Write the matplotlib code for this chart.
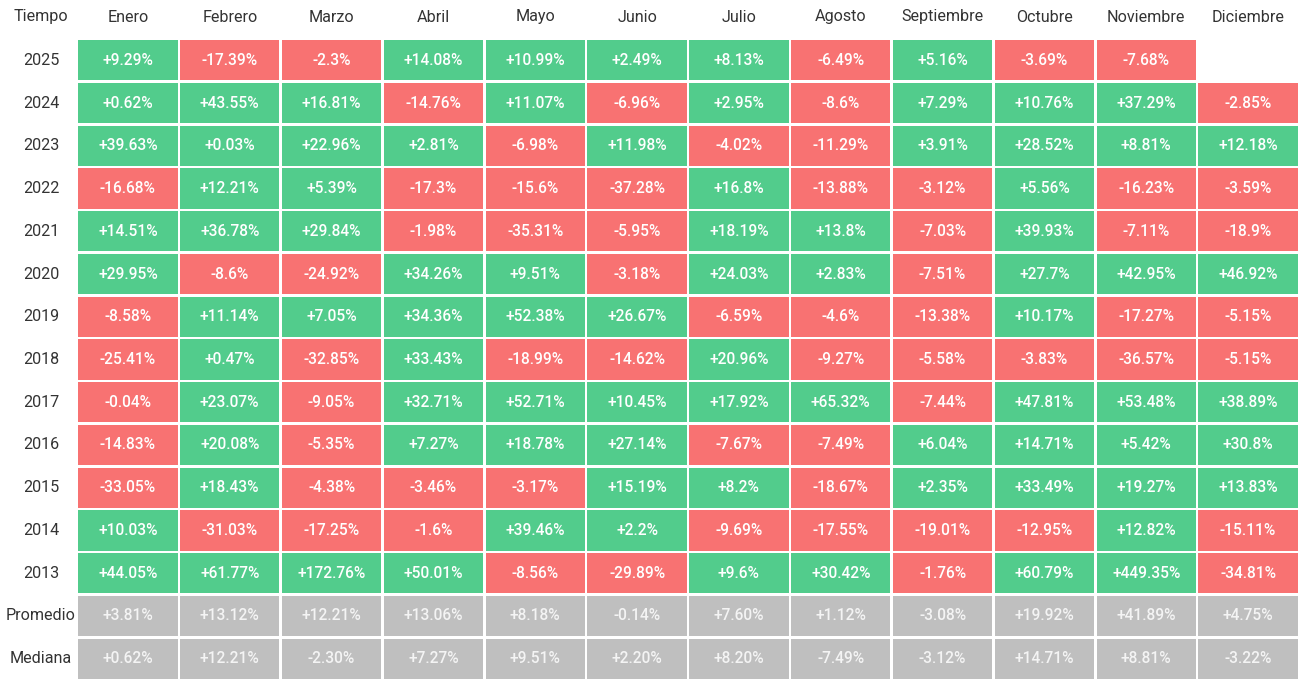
import numpy as np
import matplotlib.pyplot as plt
from matplotlib.patches import Rectangle

# Rendimiento mensual por año
meses = ['Enero', 'Febrero', 'Marzo', 'Abril', 'Mayo', 'Junio', 'Julio',
         'Agosto', 'Septiembre', 'Octubre', 'Noviembre', 'Diciembre']
años = ['2025', '2024', '2023', '2022', '2021', '2020', '2019', '2018',
        '2017', '2016', '2015', '2014', '2013']

r2025 = [9.29, -17.39, -2.3, 14.08, 10.99, 2.49, 8.13, -6.49, 5.16, -3.69, -7.68, None]
r2024 = [0.62, 43.55, 16.81, -14.76, 11.07, -6.96, 2.95, -8.6, 7.29, 10.76, 37.29, -2.85]
r2023 = [39.63, 0.03, 22.96, 2.81, -6.98, 11.98, -4.02, -11.29, 3.91, 28.52, 8.81, 12.18]
r2022 = [-16.68, 12.21, 5.39, -17.3, -15.6, -37.28, 16.8, -13.88, -3.12, 5.56, -16.23, -3.59]
r2021 = [14.51, 36.78, 29.84, -1.98, -35.31, -5.95, 18.19, 13.8, -7.03, 39.93, -7.11, -18.9]
r2020 = [29.95, -8.6, -24.92, 34.26, 9.51, -3.18, 24.03, 2.83, -7.51, 27.7, 42.95, 46.92]
r2019 = [-8.58, 11.14, 7.05, 34.36, 52.38, 26.67, -6.59, -4.6, -13.38, 10.17, -17.27, -5.15]
r2018 = [-25.41, 0.47, -32.85, 33.43, -18.99, -14.62, 20.96, -9.27, -5.58, -3.83, -36.57, -5.15]
r2017 = [-0.04, 23.07, -9.05, 32.71, 52.71, 10.45, 17.92, 65.32, -7.44, 47.81, 53.48, 38.89]
r2016 = [-14.83, 20.08, -5.35, 7.27, 18.78, 27.14, -7.67, -7.49, 6.04, 14.71, 5.42, 30.8]
r2015 = [-33.05, 18.43, -4.38, -3.46, -3.17, 15.19, 8.2, -18.67, 2.35, 33.49, 19.27, 13.83]
r2014 = [10.03, -31.03, -17.25, -1.6, 39.46, 2.2, -9.69, -17.55, -19.01, -12.95, 12.82, -15.11]
r2013 = [44.05, 61.77, 172.76, 50.01, -8.56, -29.89, 9.6, 30.42, -1.76, 60.79, 449.35, -34.81]

promedio = [3.81, 13.12, 12.21, 13.06, 8.18, -0.14, 7.60, 1.12, -3.08, 19.92, 41.89, 4.75]
mediana = [0.62, 12.21, -2.30, 7.27, 9.51, 2.20, 8.20, -7.49, -3.12, 14.71, 8.81, -3.22]

filas = [r2025, r2024, r2023, r2022, r2021, r2020, r2019, r2018,
         r2017, r2016, r2015, r2014, r2013]

VERDE = '#52cc8c'
ROJO = '#f87272'
GRIS = '#bfbfbf'
TEXTO = '#333333'

plt.rcParams['font.family'] = ['Roboto', 'DejaVu Sans']

W, H = 1311, 689
fig = plt.figure(figsize=(W / 100, H / 100), dpi=100)
x0, x1, y0, y1 = 77, 1299, 39, 680
ax = fig.add_axes([x0 / W, 1 - y1 / H, (x1 - x0) / W, (y1 - y0) / H])
ax.set_xlim(0, 12)
ax.set_ylim(15, 0)
ax.axis('off')

pxc = (x1 - x0) / 12
pxf = (y1 - y0) / 15
gx = 2.5 / pxc
gy = 2.5 / pxf

def celda(i, j, color, txt, tcolor):
    ax.add_patch(Rectangle((j + gx / 2, i + gy / 2), 1 - gx, 1 - gy,
                           facecolor=color, edgecolor='none'))
    ax.text(j + 0.5, i + 0.5, txt, ha='center', va='center',
            fontsize=11.2, color=tcolor, fontweight='medium')

for i, fila in enumerate(filas):
    for j, v in enumerate(fila):
        if v is None:
            continue
        color = VERDE if v >= 0 else ROJO
        celda(i, j, color, f'{v:+g}%', 'white')

for k, (nombre, vals) in enumerate([('Promedio', promedio), ('Mediana', mediana)]):
    i = len(filas) + k
    for j, v in enumerate(vals):
        celda(i, j, GRIS, f'{v:+.2f}%', '#f4f4f4')

etiquetas = años + ['Promedio', 'Mediana']
for i, et in enumerate(etiquetas):
    ax.text(-36 / pxc, i + 0.5, et, ha='center', va='center',
            fontsize=11.6, color=TEXTO, clip_on=False)

ax.text(-36 / pxc, -22 / pxf, 'Tiempo',
        ha='center', va='center', fontsize=11.6, color=TEXTO, clip_on=False)
for j, m in enumerate(meses):
    ax.text(j + 0.5, -22 / pxf, m, ha='center', va='center',
            fontsize=11.6, color=TEXTO, clip_on=False)

fig.savefig('out.png', dpi=100, facecolor='white')
